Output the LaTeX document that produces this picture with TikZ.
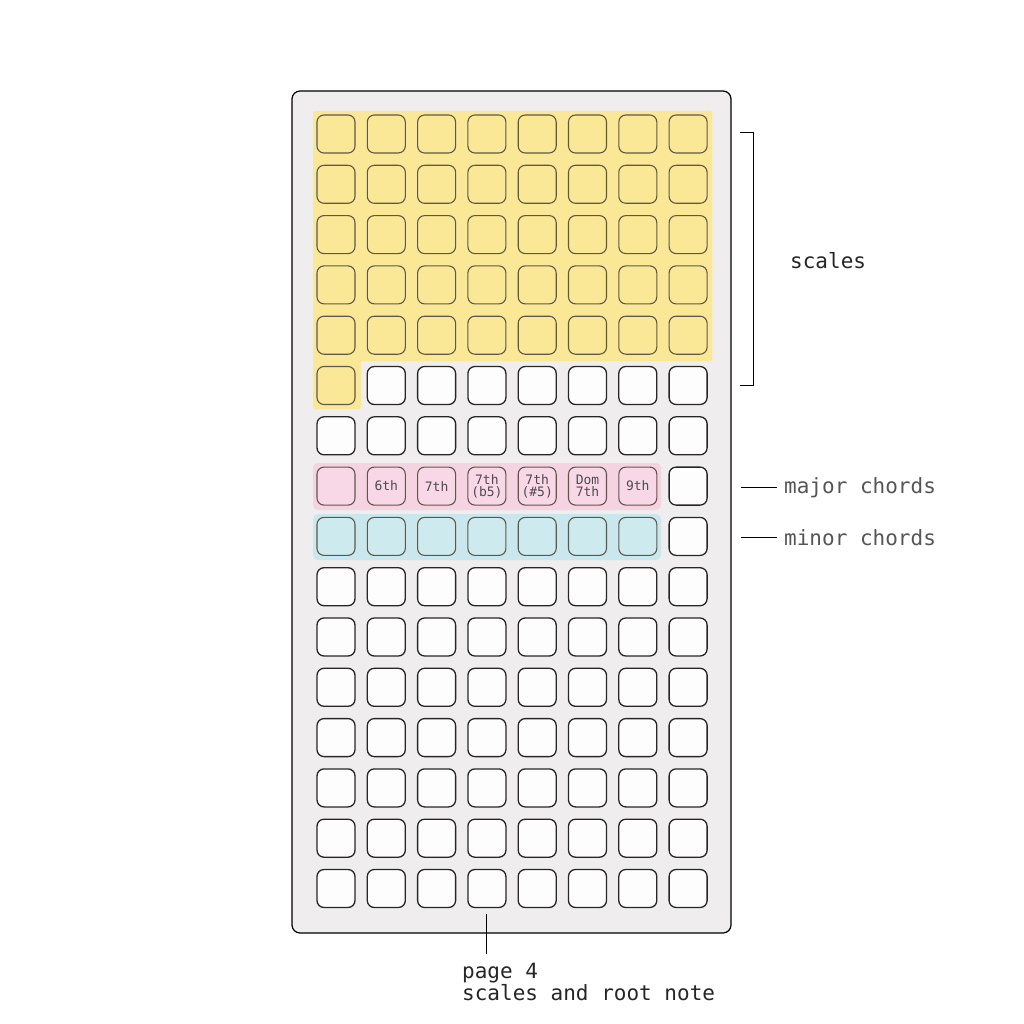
\documentclass[tikz,border=0pt]{standalone}
\usepackage{fontspec}
\setmonofont{DejaVu Sans Mono}

\definecolor{panel_gray}{HTML}{EFEDED}
\definecolor{pad_white}{HTML}{FDFDFD}
\definecolor{pad_yellow}{HTML}{FAE896}
\definecolor{pad_pink}{HTML}{F8D8E6}
\definecolor{pad_blue}{HTML}{CDEBEF}
\definecolor{band_pink}{HTML}{F5D3E0}
\definecolor{band_blue}{HTML}{C9E7EC}
\definecolor{edge_dark}{HTML}{5E5848}
\definecolor{label_gray}{HTML}{555555}

\begin{document}
\begin{tikzpicture}[x=1pt,y=-1pt]
        \tikzset{
            pad/.style={
                draw=black!85,
                fill=#1,
                line width=1.3pt,
                rounded corners=7pt,
                minimum size=38pt,
                inner sep=0pt,
                align=center,
                text=black!70,
                font=\ttfamily\fontsize{13}{12}\selectfont
            },
            padc/.style={
                pad=#1,
                draw=edge_dark,
                line width=1.1pt
            },
            lbl/.style={
                inner sep=0pt,
                font=\ttfamily\fontsize{21}{20.5}\selectfont
            }
        }
        \useasboundingbox[fill=white] (0,0) rectangle (1024,1024);

        % panel
        \draw[fill=panel_gray, line width=1.2pt, rounded corners=8pt] (292,91) rectangle (731,933);

        % bands
        \fill[pad_yellow, rounded corners=2pt] (313,111) -- (712,111) -- (712,361) -- (361,361) -- (361,409) -- (313,409) -- cycle;
        \fill[band_pink, rounded corners=5pt] (313,463) rectangle (661,510);
        \fill[band_blue, rounded corners=5pt] (313,514) rectangle (661,560);

        % scales
        \foreach \r in {0,...,4}{
            \foreach \c in {0,...,7}{
                \node[padc=pad_yellow] (b-\r-\c) at ({336+50.3*\c},{134+50.3*\r}) {};
            }
        }
        \node[padc=pad_yellow] (b-5-0) at (336,{134+50.3*5}) {};
        \foreach \c in {1,...,7}{
            \node[pad=pad_white] (b-5-\c) at ({336+50.3*\c},{134+50.3*5}) {};
        }
        \foreach \c in {0,...,7}{
            \node[pad=pad_white] (b-6-\c) at ({336+50.3*\c},{134+50.3*6}) {};
        }

        % chords
        \foreach \c/\txt in {0/{},1/6th,2/7th,3/{7th\\(b5)},4/{7th\\(\#5)},5/{Dom\\7th},6/9th}{
            \node[padc=pad_pink] (b-7-\c) at ({336+50.3*\c},{134+50.3*7}) {\txt};
            \node[padc=pad_blue] (b-8-\c) at ({336+50.3*\c},{134+50.3*8}) {};
        }
        \node[pad=pad_white] (b-7-7) at ({336+50.3*7},{134+50.3*7}) {};
        \node[pad=pad_white] (b-8-7) at ({336+50.3*7},{134+50.3*8}) {};

        % rest
        \foreach \r in {9,...,15}{
            \foreach \c in {0,...,7}{
                \node[pad=pad_white] (b-\r-\c) at ({336+50.3*\c},{134+50.3*\r}) {};
            }
        }

        % labels
        \coordinate (brtop) at (740,133);
        \coordinate (brbot) at (740,385);
        \draw[line width=1pt] (brtop) -- ++(13,0) |- (brbot);
        \node[lbl, anchor=west, text=black!85] (scales) at (790,261) {scales};

        \node[lbl, anchor=west, text=label_gray] (major) at (784,488) {major chords};
        \node[lbl, anchor=west, text=label_gray] (minor) at (784,538) {minor chords};
        \coordinate (majc) at (741,487);
        \coordinate (minc) at (741,537);
        \draw[line width=1pt] (majc) -- ([xshift=-7pt]major.west |- majc);
        \draw[line width=1pt] (minc) -- ([xshift=-7pt]minor.west |- minc);

        \node[lbl, anchor=north west, align=left, text=black!85] (page) at (462,963) {page 4\\scales and root note};
        \coordinate (pgtop) at (486,914);
        \draw[line width=1pt] (pgtop) -- (pgtop |- 0,954);

\end{tikzpicture}
\end{document}
